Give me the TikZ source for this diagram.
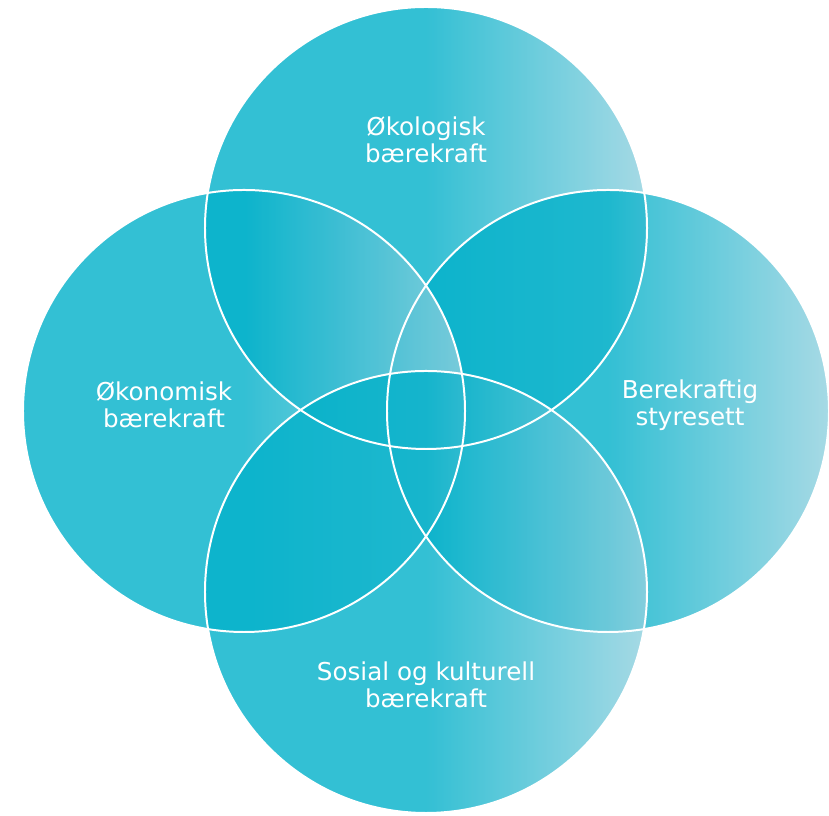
\documentclass[tikz,border=0pt]{standalone}
\usepackage{fontspec}
\setmainfont{DejaVu Sans}
\definecolor{tealbase}{RGB}{4,177,202}
\definecolor{teallight}{RGB}{146,209,223}
\pgfdeclarehorizontalshading{petalfade}{100bp}{%
  color(0bp)=(tealbase); color(50bp)=(tealbase);
  color(75bp)=(teallight); color(100bp)=(teallight)}
\tikzset{
  every node/.style={
    font=\fontsize{21}{23}\selectfont
  },
  petal/.style={
    shading=petalfade,
    opacity=0.81
  },
  rim/.style={
    draw=white,
    line width=1.7pt
  },
  caption/.style={
    text=white,
    align=center,
    inner sep=0pt
  }
}
\begin{document}
\begin{tikzpicture}[x=0.03cm,y=0.03cm]
  \useasboundingbox (0,0) rectangle (829,816);
  \coordinate (eco) at (426,588);
  \coordinate (gov) at (608,405);
  \coordinate (fin) at (244,405);
  \coordinate (soc) at (426,224);
  % fills, back to front
  \foreach \c in {eco,gov,fin,soc}
    \shade[petal] (\c) circle (6.63cm);
  % white rims on top
  \foreach \c in {eco,gov,fin,soc}
    \draw[rim] (\c) circle (6.63cm);
  \node[caption] (ecotext) at (426,676) {Økologisk\\bærekraft};
  \node[caption] (fintext) at (164,411) {Økonomisk\\bærekraft};
  \node[caption] (govtext) at (690,411) {Berekraftig\\styresett};
  \node[caption] (soctext) at (426,131) {Sosial og kulturell\\bærekraft};
\end{tikzpicture}
\end{document}
